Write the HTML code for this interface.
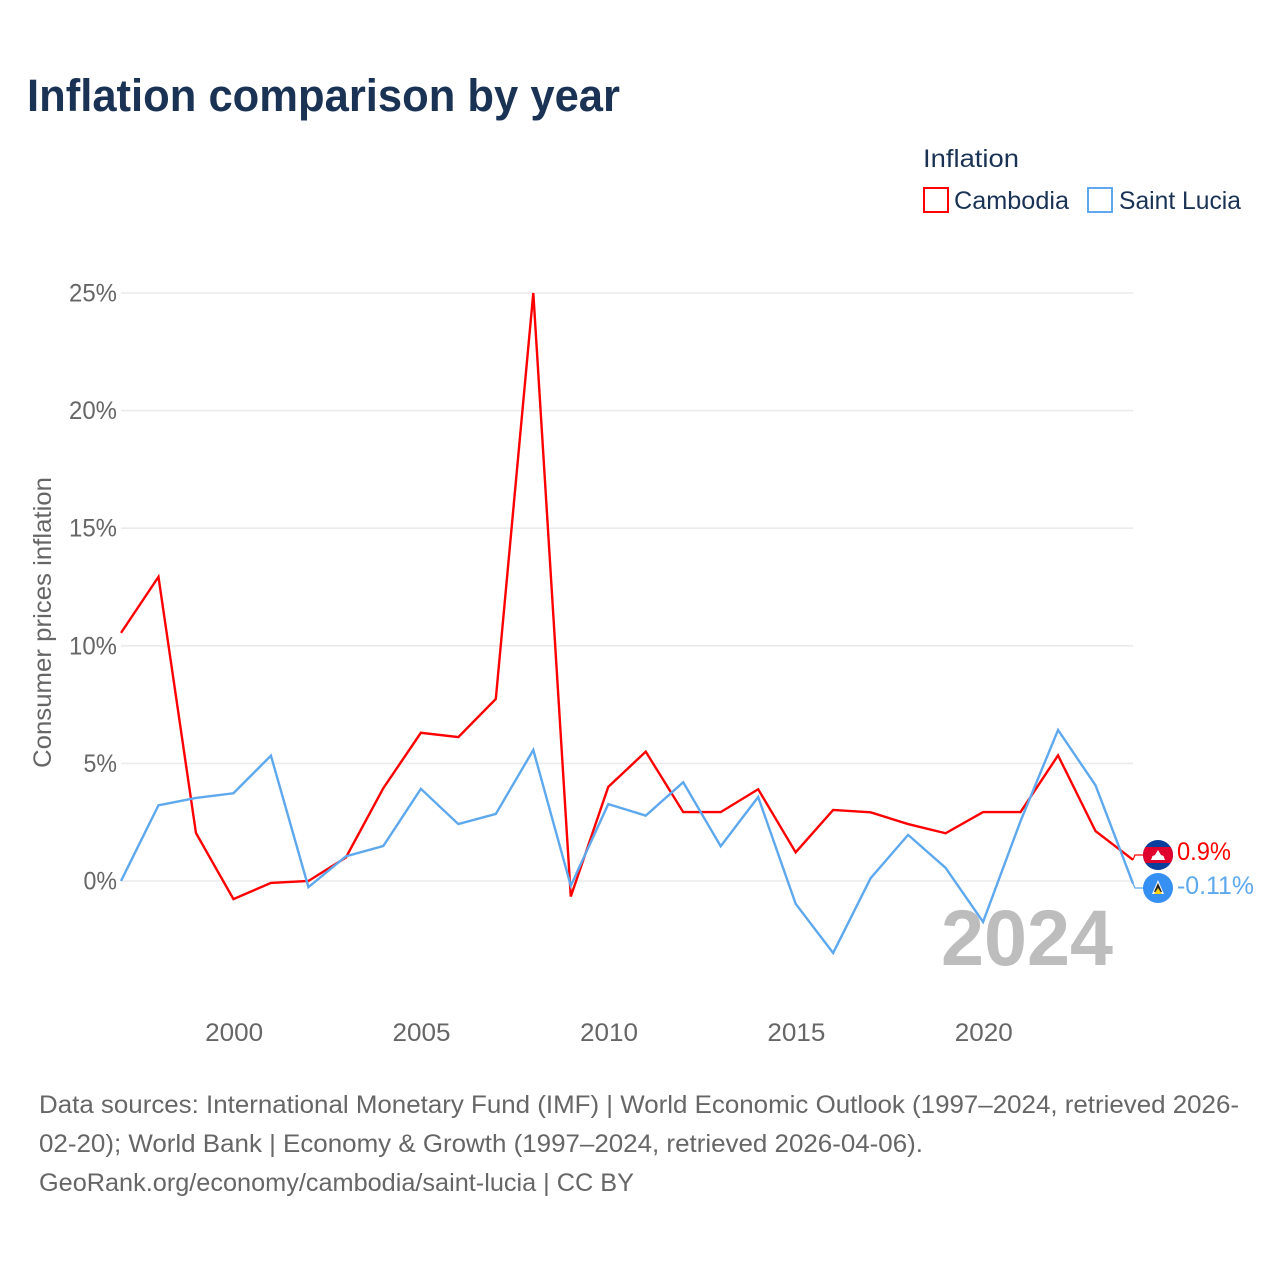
<!DOCTYPE html>
<html lang="en">
<head>
<meta charset="utf-8">
<title>Inflation comparison by year</title>
<style>
  html, body { margin: 0; padding: 0; background: #fff; }
  svg { display: block; }
  text { font-family: "Liberation Sans", sans-serif; }
</style>
</head>
<body>
<svg id="chart" xmlns="http://www.w3.org/2000/svg" width="1280" height="1280" viewBox="0 0 1280 1280">
  <defs>
    <clipPath id="khm-clip"><circle cx="1158" cy="855" r="15"/></clipPath>
  </defs>
  <rect width="1280" height="1280" fill="#ffffff"/>
  <text x="27" y="111" font-size="45" font-weight="700" fill="#1a3355" textLength="593" lengthAdjust="spacingAndGlyphs">Inflation comparison by year</text>

  <g>
    <text x="923" y="167" font-size="25" fill="#1a3355" textLength="96" lengthAdjust="spacingAndGlyphs">Inflation</text>
    <g>
      <rect x="924" y="188" width="24" height="24" fill="#fff" stroke="#ff0000" stroke-width="2"/>
      <text x="954" y="209" font-size="25" fill="#1a3355" textLength="115" lengthAdjust="spacingAndGlyphs">Cambodia</text>
    </g>
    <g>
      <rect x="1088" y="188" width="24" height="24" fill="#fff" stroke="#5ea8ee" stroke-width="2"/>
      <text x="1119" y="209" font-size="25" fill="#1a3355" textLength="122" lengthAdjust="spacingAndGlyphs">Saint Lucia</text>
    </g>
  </g>

  <g id="grid"></g>
  <g id="yticks"></g>
  <g id="xticks"></g>
  <text transform="translate(51,768) rotate(-90)" font-size="25" fill="#666666" textLength="291" lengthAdjust="spacingAndGlyphs">Consumer prices inflation</text>

  <text x="941" y="965" font-size="79" font-weight="700" fill="#bdbdbd" textLength="172" lengthAdjust="spacingAndGlyphs">2024</text>

  <g id="series"></g>
  <g id="ends"></g>

  <g>
    <circle cx="1158" cy="855" r="15" fill="#0b3f9c"/>
    <rect x="1143" y="847" width="30" height="16" fill="#e0002d" clip-path="url(#khm-clip)"/>
    <path d="M1151 860 L1152.5 856 L1155 855 L1158 850 L1161 855 L1163.5 856 L1165 860 Z" fill="#ffffff"/>
  </g>
  <g>
    <circle cx="1158" cy="888" r="15" fill="#368ff2"/>
    <path d="M1158 880 L1164 894 H1152 Z" fill="#f5f5f5"/>
    <path d="M1158 883 L1162 892 H1154 Z" fill="#222222"/>
    <path d="M1158 888 L1162 894 H1154 Z" fill="#fcd116"/>
  </g>

  <g font-size="25" fill="#666666">
    <text x="39" y="1113" textLength="1200" lengthAdjust="spacingAndGlyphs">Data sources: International Monetary Fund (IMF) | World Economic Outlook (1997–2024, retrieved 2026-</text>
    <text x="39" y="1152" textLength="884" lengthAdjust="spacingAndGlyphs">02-20); World Bank | Economy &amp; Growth (1997–2024, retrieved 2026-04-06).</text>
    <text x="39" y="1191" textLength="595" lengthAdjust="spacingAndGlyphs">GeoRank.org/economy/cambodia/saint-lucia | CC BY</text>
  </g>
</svg>

<script>
const years = [1997,1998,1999,2000,2001,2002,2003,2004,2005,2006,2007,2008,2009,2010,2011,2012,2013,2014,2015,2016,2017,2018,2019,2020,2021,2022,2023,2024];
const cambodia = [10.55,12.93,2.04,-0.77,-0.08,0.0,1.0,3.95,6.3,6.12,7.74,25.0,-0.66,4.0,5.5,2.93,2.93,3.9,1.22,3.02,2.92,2.42,2.03,2.93,2.93,5.34,2.12,0.9];
const saintLucia = [0.0,3.22,3.53,3.73,5.33,-0.26,1.05,1.49,3.92,2.42,2.85,5.57,-0.2,3.27,2.78,4.2,1.48,3.57,-0.97,-3.06,0.12,1.96,0.56,-1.74,2.55,6.42,4.07,-0.11];
const yTickValues = [0,5,10,15,20,25];
const xTickValues = [2000,2005,2010,2015,2020];

const NS = 'http://www.w3.org/2000/svg';
const xScale = function (year) { return 121 + (year - 1997) * (1133 - 121) / (2024 - 1997); };
const yScale = function (v) { return 881 - v * (881 - 293) / 25; };
const gridG = document.getElementById('grid');
const yG = document.getElementById('yticks');
const xG = document.getElementById('xticks');
const seriesG = document.getElementById('series');
const endsG = document.getElementById('ends');

yTickValues.forEach(function (v) {
  const line = document.createElementNS(NS, 'line');
  
  
  line.setAttribute('x1', 121);
  line.setAttribute('x2', 1133);
  line.setAttribute('y1', yScale(v));
  line.setAttribute('y2', yScale(v));
  line.setAttribute('stroke', '#ebebeb');
  line.setAttribute('stroke-width', '1.6');
  gridG.appendChild(line);

  const label = v + '%';
  const t = document.createElementNS(NS, 'text');
  
  
  t.setAttribute('x', 117);
  t.setAttribute('y', yScale(v) + 8.5);
  t.setAttribute('text-anchor', 'end');
  t.setAttribute('font-size', '25');
  t.setAttribute('fill', '#666666');
  t.setAttribute('textLength', (label.length - 1) * 14.5 + 19);
  t.setAttribute('lengthAdjust', 'spacingAndGlyphs');
  t.textContent = label;
  yG.appendChild(t);
});

xTickValues.forEach(function (year) {
  const t = document.createElementNS(NS, 'text');
  
  
  t.setAttribute('x', xScale(year) + 0.7);
  t.setAttribute('y', 1041);
  t.setAttribute('text-anchor', 'middle');
  t.setAttribute('font-size', '25');
  t.setAttribute('fill', '#666666');
  t.setAttribute('textLength', 58);
  t.setAttribute('lengthAdjust', 'spacingAndGlyphs');
  t.textContent = String(year);
  xG.appendChild(t);
});

function drawSeries(values, color, labelY, textBaseline, lineName, leaderName, labelName) {
  const path = document.createElementNS(NS, 'path');
  
  
  path.setAttribute('d', values.map(function (v, i) {
    return (i ? 'L' : 'M') + xScale(years[i]).toFixed(2) + ' ' + yScale(v).toFixed(2);
  }).join(' '));
  path.setAttribute('fill', 'none');
  path.setAttribute('stroke', color);
  path.setAttribute('stroke-width', '2.4');
  path.setAttribute('stroke-linejoin', 'miter');
  seriesG.appendChild(path);

  const last = values[values.length - 1];
  const leader = document.createElementNS(NS, 'path');
  
  
  leader.setAttribute('d', 'M' + xScale(2024) + ' ' + yScale(last) + ' L1135 ' + labelY + ' L1143 ' + labelY);
  leader.setAttribute('fill', 'none');
  leader.setAttribute('stroke', color);
  leader.setAttribute('stroke-width', '1.2');
  endsG.appendChild(leader);

  const label = last + '%';
  const t = document.createElementNS(NS, 'text');
  
  
  t.setAttribute('x', 1177);
  t.setAttribute('y', textBaseline);
  t.setAttribute('font-size', '25');
  t.setAttribute('fill', color);
  t.setAttribute('textLength', label.length === 4 ? 54 : 77);
  t.setAttribute('lengthAdjust', 'spacingAndGlyphs');
  t.textContent = label;
  endsG.appendChild(t);
}

drawSeries(saintLucia, '#5ea8ee', 888, 894, 'line-saint-lucia', 'leader-saint-lucia', 'end-label-saint-lucia');
drawSeries(cambodia, '#ff0000', 855, 860, 'line-cambodia', 'leader-cambodia', 'end-label-cambodia');
seriesG.appendChild(seriesG.firstChild);
</script>
</body>
</html>
